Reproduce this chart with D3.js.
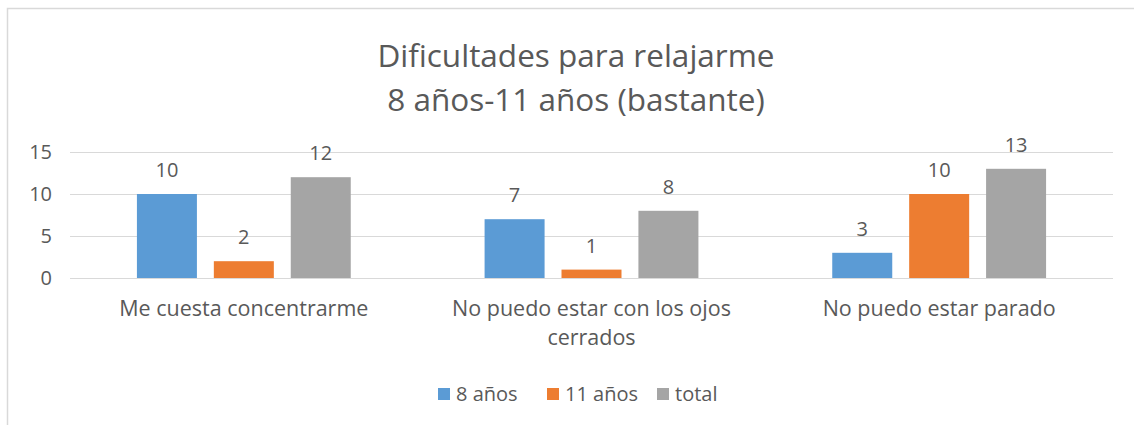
<!DOCTYPE html>
<html>
<head>
<meta charset="utf-8">
<script src="https://cdn.jsdelivr.net/npm/d3@7"></script>
<style>
  body { margin: 0; background: #fff; }
  svg text { font-family: "Open Sans", Lato, sans-serif; fill: #595959; }
</style>
</head>
<body>
<svg id="chart" width="1134" height="425"></svg>
<script>
// chart data
const categories = ['Me cuesta concentrarme', 'No puedo estar con los ojos cerrados', 'No puedo estar parado'];
const seriesNames = ['8 años', '11 años', 'total'];
const values8 = [10, 7, 3];
const values11 = [2, 1, 10];
const valuesTotal = [12, 8, 13];
const yTicks = [0, 5, 10, 15];
const titleLines = ['Dificultades para relajarme', '8 años-11 años (bastante)'];

const colors = ['#5B9BD5', '#ED7D31', '#A5A5A5'];
const seriesValues = [values8, values11, valuesTotal];

const width = 1134;
const height = 425;
const margin = { top: 152, right: 21, bottom: 147, left: 70 };

const svg = d3.select('#chart');

// chart frame (only the top and left edges are visible in the picture)
svg.append('rect')
  .attr('x', 7.5)
  .attr('y', 8.5)
  .attr('width', width + 20)
  .attr('height', height + 20)
  .attr('fill', '#fff')
  .attr('stroke', '#d9d9d9')
  .attr('stroke-width', 1.5);

// title
svg.append('g')
  .selectAll('text')
  .data(titleLines)
  .enter()
  .append('text')
  .attr('x', 576)
  .attr('y', (d, i) => 67 + i * 44)
  .attr('text-anchor', 'middle')
  .style('font-size', '31.5px')
  .text(d => d);

const yScale = d3.scaleLinear()
  .domain([0, 15])
  .range([height - margin.bottom, margin.top]);

const x0 = d3.scaleBand()
  .domain(categories)
  .range([margin.left, width - margin.right])
  .padding(0);

const x1 = d3.scaleBand()
  .domain(seriesNames)
  .range([0, x0.bandwidth()])
  .paddingInner(0.22)
  .paddingOuter(0.87);

// gridlines
svg.append('g')
  .selectAll('line')
  .data(yTicks)
  .enter()
  .append('line')
  .attr('x1', margin.left)
  .attr('x2', width - margin.right)
  .attr('y1', d => Math.round(yScale(d)) + 0.5)
  .attr('y2', d => Math.round(yScale(d)) + 0.5)
  .attr('stroke', '#d9d9d9')
  .attr('stroke-width', 1);

// y axis labels
const yAxis = d3.axisLeft(yScale)
  .tickValues(yTicks)
  .tickSize(0)
  .tickPadding(18);

svg.append('g')
  .attr('transform', `translate(${margin.left}, 0)`)
  .call(yAxis)
  .call(g => g.select('.domain').remove())
  .call(g => g.selectAll('text')
    .style('font-size', '20px')
    .attr('fill', '#595959'));

// bars and value labels
const rows = categories.map((c, i) => ({
  category: c,
  items: seriesNames.map((s, j) => ({ series: s, value: seriesValues[j][i], color: colors[j] }))
}));

const groups = svg.append('g')
  .selectAll('g')
  .data(rows)
  .enter()
  .append('g')
  .attr('transform', d => `translate(${x0(d.category)}, 0)`);

groups.selectAll('rect')
  .data(d => d.items)
  .enter()
  .append('rect')
  .attr('x', d => x1(d.series))
  .attr('y', d => yScale(d.value))
  .attr('width', x1.bandwidth())
  .attr('height', d => yScale(0) - yScale(d.value))
  .attr('fill', d => d.color);

groups.selectAll('text')
  .data(d => d.items)
  .enter()
  .append('text')
  .attr('x', d => x1(d.series) + x1.bandwidth() / 2)
  .attr('y', d => yScale(d.value) - 17)
  .attr('text-anchor', 'middle')
  .style('font-size', '20px')
  .text(d => d.value);

// category labels, wrapped like the original
function wrap(text, maxWidth) {
  text.each(function() {
    const el = d3.select(this);
    const words = el.text().split(' ');
    const x = el.attr('x');
    const y = +el.attr('y');
    el.text(null);
    let line = [];
    let lineNo = 0;
    let tspan = el.append('tspan').attr('x', x).attr('y', y);
    words.forEach(w => {
      line.push(w);
      tspan.text(line.join(' '));
      if (tspan.node().getComputedTextLength() > maxWidth && line.length > 1) {
        line.pop();
        tspan.text(line.join(' '));
        line = [w];
        lineNo++;
        tspan = el.append('tspan').attr('x', x).attr('y', y + lineNo * 29).text(w);
      }
    });
  });
}

svg.append('g')
  .selectAll('text')
  .data(categories)
  .enter()
  .append('text')
  .attr('x', d => x0(d) + x0.bandwidth() / 2)
  .attr('y', 316)
  .attr('text-anchor', 'middle')
  .style('font-size', '21.5px')
  .text(d => d)
  .call(wrap, 300);

// legend
const legendX = [438, 547, 657];
const legend = svg.append('g');

const legendItem = legend.selectAll('g')
  .data(seriesNames)
  .enter()
  .append('g')
  .attr('transform', (d, i) => `translate(${legendX[i]}, 388)`);

legendItem.append('rect')
  .attr('width', 12)
  .attr('height', 12)
  .attr('fill', (d, i) => colors[i]);

legendItem.append('text')
  .attr('x', 18)
  .attr('y', 12.5)
  .style('font-size', '20px')
  .text(d => d);
</script>
</body>
</html>
